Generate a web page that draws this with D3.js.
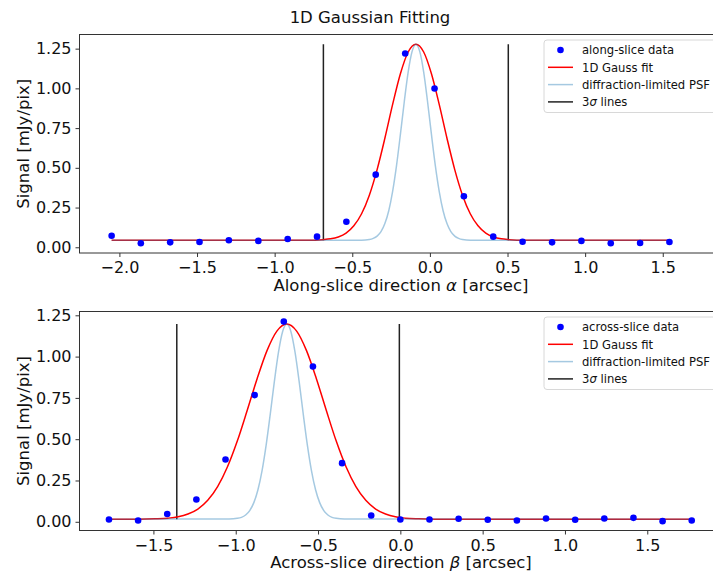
<!DOCTYPE html>
<html>
<head>
<meta charset="utf-8">
<script src="https://cdn.jsdelivr.net/npm/d3@7"></script>
<style>
  body { margin: 0; background: #ffffff; }
  svg { display: block; font-family: "DejaVu Sans", sans-serif; }
</style>
</head>
<body>
<svg id="chart"></svg>
<script>
// ---- data ----
const alongX = [-2.05, -1.862, -1.673, -1.484, -1.295, -1.105, -0.916, -0.727, -0.538, -0.349,
  -0.159, 0.030, 0.219, 0.408, 0.597, 0.787, 0.976, 1.165, 1.354, 1.543];
const alongY = [0.073, 0.025, 0.031, 0.033, 0.044, 0.040, 0.052, 0.067, 0.161, 0.457,
  1.219, 0.999, 0.321, 0.067, 0.035, 0.031, 0.040, 0.025, 0.027, 0.033];

const alongFitX = [-2.05, -0.79, -0.69, -0.64, -0.59, -0.54, -0.49, -0.44, -0.39, -0.34, -0.29, -0.24, -0.19, -0.14,
  -0.09, -0.04, 0.01, 0.06, 0.11, 0.16, 0.21, 0.26, 0.31, 0.36, 0.41, 0.46, 0.51, 0.61, 1.55];
const alongFitY = [0.044, 0.044, 0.048, 0.053, 0.065, 0.089, 0.135, 0.211, 0.328, 0.489, 0.686, 0.899, 1.092, 1.229,
  1.278, 1.229, 1.092, 0.899, 0.686, 0.489, 0.328, 0.211, 0.135, 0.089, 0.065, 0.053, 0.048, 0.044, 0.044];

const alongPsfX = [-2.05, -0.44, -0.39, -0.365, -0.34, -0.315, -0.29, -0.265, -0.24, -0.215, -0.19, -0.165, -0.14, -0.115,
  -0.09, -0.065, -0.04, -0.015, 0.01, 0.035, 0.06, 0.085, 0.11, 0.135, 0.16, 0.185, 0.21, 0.26, 1.55];
const alongPsfY = [0.044, 0.045, 0.049, 0.056, 0.070, 0.098, 0.149, 0.230, 0.352, 0.514, 0.710, 0.916, 1.102, 1.231,
  1.278, 1.231, 1.102, 0.916, 0.710, 0.514, 0.352, 0.230, 0.149, 0.098, 0.070, 0.056, 0.049, 0.045, 0.044];

const alongSigmaX = [-0.686, 0.505];
const alongSigmaY = [0.044, 1.278];

const acrossX = [-1.77, -1.593, -1.416, -1.239, -1.062, -0.885, -0.708, -0.531, -0.354, -0.177, 0.0,
  0.177, 0.354, 0.531, 0.708, 0.885, 1.062, 1.239, 1.416, 1.593, 1.77];
const acrossY = [0.014, 0.008, 0.047, 0.135, 0.377, 0.767, 1.212, 0.940, 0.355, 0.038, 0.014,
  0.014, 0.018, 0.012, 0.008, 0.020, 0.012, 0.020, 0.024, 0.004, 0.008];

const acrossFitX = [-1.77, -1.59, -1.49, -1.41, -1.35, -1.29, -1.23, -1.17, -1.11, -1.05, -0.99, -0.93, -0.87, -0.81, -0.75,
  -0.69, -0.63, -0.57, -0.51, -0.45, -0.39, -0.33, -0.27, -0.21, -0.15, -0.09, -0.03, 0.03, 0.11, 0.21, 1.77];
const acrossFitY = [0.016, 0.016, 0.018, 0.022, 0.030, 0.047, 0.077, 0.130, 0.213, 0.333, 0.490, 0.675, 0.866, 1.036, 1.154,
  1.197, 1.154, 1.036, 0.866, 0.675, 0.490, 0.333, 0.213, 0.130, 0.077, 0.047, 0.030, 0.022, 0.018, 0.016, 0.016];

const acrossPsfX = [-1.77, -1.04, -0.99, -0.965, -0.94, -0.915, -0.89, -0.865, -0.84, -0.815, -0.79, -0.765, -0.74, -0.715,
  -0.69, -0.665, -0.64, -0.615, -0.59, -0.565, -0.54, -0.515, -0.49, -0.465, -0.44, -0.415, -0.39, -0.34, 1.77];
const acrossPsfY = [0.016, 0.017, 0.021, 0.027, 0.041, 0.068, 0.116, 0.194, 0.310, 0.466, 0.653, 0.851, 1.028, 1.152,
  1.197, 1.152, 1.028, 0.851, 0.653, 0.466, 0.310, 0.194, 0.116, 0.068, 0.041, 0.027, 0.021, 0.017, 0.016];

const acrossSigmaX = [-1.358, -0.006];
const acrossSigmaY = [0.016, 1.197];

const alongTicksX = [-2.0, -1.5, -1.0, -0.5, 0.0, 0.5, 1.0, 1.5];
const acrossTicksX = [-1.5, -1.0, -0.5, 0.0, 0.5, 1.0, 1.5];
const signalTicks = [0.00, 0.25, 0.50, 0.75, 1.00, 1.25];

const titleText = "1D Gaussian Fitting";

function zip(xs, ys) {
  return xs.map(function(x, i) { return { x: x, y: ys[i] }; });
}

const svg = d3.select("#chart").attr("width", 713).attr("height", 575);
svg.append("rect").attr("width", 713).attr("height", 575).attr("fill", "#ffffff");

svg.append("text")
  .attr("x", 370).attr("y", 23)
  .attr("text-anchor", "middle")
  .style("font-size", "16.5px")
  .attr("fill", "#111")
  .text(titleText);

function drawPanel(cfg) {
  const left = 79.5, right = 723;
  const x = d3.scaleLinear().domain(cfg.xDomain).range([left, right]);
  const y = d3.scaleLinear().domain(cfg.yDomain).range([cfg.bottom, cfg.top]);
  const g = svg.append("g");

  const clipId = "clip" + cfg.id;
  svg.append("clipPath").attr("id", clipId)
    .append("rect").attr("x", left).attr("y", cfg.top).attr("width", right - left).attr("height", cfg.bottom - cfg.top);

  const plot = g.append("g").attr("clip-path", "url(#" + clipId + ")");
  const line = d3.line().x(function(d) { return x(d.x); }).y(function(d) { return y(d.y); }).curve(d3.curveMonotoneX);

  // 3 sigma lines
  cfg.sigmaX.forEach(function(sx) {
    plot.append("line")
      .attr("x1", x(sx)).attr("x2", x(sx))
      .attr("y1", y(cfg.sigmaY[0])).attr("y2", y(cfg.sigmaY[1]))
      .attr("stroke", "#222").attr("stroke-width", 1.5);
  });

  plot.append("path").datum(zip(cfg.fitX, cfg.fitY))
    .attr("d", line).attr("fill", "none").attr("stroke", "#ff0000").attr("stroke-width", 1.5);

  plot.append("path").datum(zip(cfg.psfX, cfg.psfY))
    .attr("d", line).attr("fill", "none").attr("stroke", "#1f77b4").attr("stroke-opacity", 0.4).attr("stroke-width", 1.5);

  plot.selectAll(".pt").data(zip(cfg.dataX, cfg.dataY)).join("circle")
    .attr("cx", function(d) { return x(d.x); })
    .attr("cy", function(d) { return y(d.y); })
    .attr("r", 3.3).attr("fill", "#0000ff");

  // axes
  const xAxis = g.append("g").attr("transform", "translate(0," + cfg.bottom + ")")
    .call(d3.axisBottom(x).tickValues(cfg.xTicks).tickFormat(d3.format(".1f")).tickSize(4).tickPadding(5));
  const yAxis = g.append("g").attr("transform", "translate(" + left + ",0)")
    .call(d3.axisLeft(y).tickValues(signalTicks).tickFormat(d3.format(".2f")).tickSize(4).tickPadding(4));
  [xAxis, yAxis].forEach(function(a) {
    a.select(".domain").remove();
    a.selectAll("line").attr("stroke", "#333");
    a.selectAll("text").style("font-size", "16px").attr("fill", "#111")
      .style("font-family", "'DejaVu Sans', sans-serif");
  });

  g.append("rect")
    .attr("x", left).attr("y", cfg.top).attr("width", right - left).attr("height", cfg.bottom - cfg.top)
    .attr("fill", "none").attr("stroke", "#333").attr("stroke-width", 1);

  // axis labels
  const xl = g.append("text")
    .attr("x", 401).attr("y", cfg.xLabelY).attr("text-anchor", "middle")
    .style("font-size", "16.5px").attr("fill", "#111");
  xl.append("tspan").text(cfg.xLabel[0]);
  xl.append("tspan").style("font-style", "italic").text(cfg.xLabel[1]);
  xl.append("tspan").text(cfg.xLabel[2]);

  g.append("text")
    .attr("transform", "translate(29," + ((cfg.top + cfg.bottom) / 2) + ") rotate(-90)")
    .attr("text-anchor", "middle")
    .style("font-size", "16.5px").attr("fill", "#111")
    .text("Signal [mJy/pix]");

  // legend
  const lg = g.append("g").attr("transform", "translate(544," + (cfg.top + 5.5) + ")");
  lg.append("rect").attr("x", 0).attr("y", 0).attr("width", 200).attr("height", 72.5).attr("rx", 3)
    .attr("fill", "#ffffff").attr("fill-opacity", 0.8).attr("stroke", "#d8d8d8");
  const rowY = [10, 27.3, 44.6, 61.9];
  const items = [
    { kind: "dot", color: "#0000ff", label: cfg.dataLabel },
    { kind: "line", color: "#ff0000", label: "1D Gauss fit" },
    { kind: "line", color: "#1f77b4", opacity: 0.4, label: "diffraction-limited PSF" },
    { kind: "line", color: "#222", label: "sigma" }
  ];
  items.forEach(function(it, i) {
    if (it.kind === "dot") {
      lg.append("circle").attr("cx", 16.5).attr("cy", rowY[i]).attr("r", 3.3).attr("fill", it.color);
    } else {
      lg.append("line").attr("x1", 4).attr("x2", 29).attr("y1", rowY[i]).attr("y2", rowY[i])
        .attr("stroke", it.color).attr("stroke-opacity", it.opacity || 1).attr("stroke-width", 1.5);
    }
    const t = lg.append("text").attr("x", 38).attr("y", rowY[i] + 4.2)
      .style("font-size", "11.6px").attr("fill", "#111");
    if (it.label === "sigma") {
      t.append("tspan").text("3");
      t.append("tspan").style("font-style", "italic").text("σ");
      t.append("tspan").text(" lines");
    } else {
      t.text(it.label);
    }
  });
}

drawPanel({
  id: "top", top: 34.5, bottom: 253, xDomain: [-2.257, 1.888], yDomain: [-0.036, 1.339],
  dataX: alongX, dataY: alongY, fitX: alongFitX, fitY: alongFitY, psfX: alongPsfX, psfY: alongPsfY,
  sigmaX: alongSigmaX, sigmaY: alongSigmaY, xTicks: alongTicksX,
  xLabel: ["Along-slice direction ", "α", " [arcsec]"], xLabelY: 291, dataLabel: "along-slice data"
});

drawPanel({
  id: "bottom", top: 311.5, bottom: 530.5, xDomain: [-1.949, 1.96], yDomain: [-0.0527, 1.273],
  dataX: acrossX, dataY: acrossY, fitX: acrossFitX, fitY: acrossFitY, psfX: acrossPsfX, psfY: acrossPsfY,
  sigmaX: acrossSigmaX, sigmaY: acrossSigmaY, xTicks: acrossTicksX,
  xLabel: ["Across-slice direction ", "β", " [arcsec]"], xLabelY: 568, dataLabel: "across-slice data"
});
</script>
</body>
</html>
